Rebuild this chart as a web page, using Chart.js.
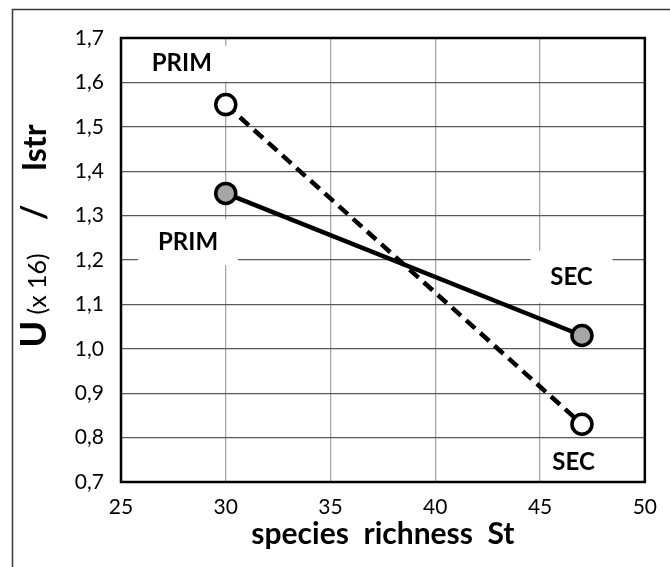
<!DOCTYPE html>
<html>
<head>
<meta charset="utf-8">
<script src="https://cdn.jsdelivr.net/npm/chart.js@4/dist/chart.umd.min.js"></script>
<style>
  body { margin: 0; background: #fff; }
  #wrap { width: 670px; height: 567px; }
</style>
</head>
<body>
<div id="wrap"><canvas id="RichChart"></canvas></div>
<script>
// species richness St
const richness = [30, 47];
const seriesU = [1.35, 1.03];     // grey points, solid line
const seriesI = [1.55, 0.83];     // white points, dashed line
const xTicks = { min: 25, max: 50, step: 5 };
const yTicks = { min: 0.7, max: 1.7, step: 0.1 };
// in-plot labels: text, x value, y value
const labelText = ['PRIM', 'PRIM', 'SEC', 'SEC'];
const labelX = [27.9, 28.2, 46.5, 46.6];
const labelY = [1.642, 1.24, 1.162, 0.745];

const FONT = 'Lato, "Open Sans", sans-serif';

const toPts = (xs, ys) => xs.map((x, i) => ({ x: x, y: ys[i] }));

const frame = {
    id: 'frame',
    beforeDraw(chart) {
        const c = chart.ctx;
        c.save();
        c.strokeStyle = '#3a3a3a';
        c.lineWidth = 1.5;
        c.strokeRect(12.5, 9.5, 700, 600);
        c.restore();
    },
    beforeDatasetsDraw(chart) {
        const c = chart.ctx, a = chart.chartArea;
        const sx = chart.scales.x, sy = chart.scales.y;
        c.save();
        // white boxes behind the labels
        const boxW = [100, 100, 82, 56], boxH = [36, 46, 52, 40];
        labelText.forEach((t, i) => {
            const px = sx.getPixelForValue(labelX[i]);
            const py = sy.getPixelForValue(labelY[i]);
            c.fillStyle = '#fff';
            let top = Math.max(py - boxH[i] / 2, a.top + 2);
            let bot = Math.min(py + boxH[i] / 2, a.bottom - 2);
            c.fillRect(px - boxW[i] / 2, top, boxW[i], bot - top);
        });
        c.strokeStyle = '#000';
        c.lineWidth = 2.5;
        c.strokeRect(a.left, a.top, a.right - a.left, a.bottom - a.top);
        c.fillStyle = '#000';
        c.font = 'bold 24px ' + FONT;
        c.textAlign = 'center';
        c.textBaseline = 'middle';
        labelText.forEach((t, i) => {
            c.fillText(t, sx.getPixelForValue(labelX[i]), sy.getPixelForValue(labelY[i]));
        });
        c.restore();
    },
    afterDraw(chart) {
        // y axis title with mixed sizes
        const c = chart.ctx;
        const parts = [
            ['U', 'bold 36px ' + FONT],
            [' (x 16)', '25px ' + FONT],
            ['    /    ', 'bold 34px ' + FONT],
            ['Istr', 'bold 32px ' + FONT]
        ];
        c.save();
        let total = 0;
        parts.forEach(p => { c.font = p[1]; total += c.measureText(p[0]).width; });
        c.translate(46, 236);
        c.rotate(-Math.PI / 2);
        c.fillStyle = '#000';
        c.textBaseline = 'alphabetic';
        c.textAlign = 'left';
        let u = -total / 2;
        parts.forEach(p => {
            c.font = p[1];
            c.fillText(p[0], u, 0);
            u += c.measureText(p[0]).width;
        });
        c.restore();
    }
};

new Chart(document.getElementById('RichChart').getContext('2d'), {
    type: 'line',
    data: {
        datasets: [{
            label: 'U (x 16)',
            data: toPts(richness, seriesU),
            borderColor: '#000',
            borderWidth: 4.5,
            pointRadius: 10,
            pointBorderWidth: 3.5,
            pointBorderColor: '#000',
            pointBackgroundColor: '#a6a6a6'
        }, {
            label: 'Istr',
            data: toPts(richness, seriesI),
            borderColor: '#000',
            borderWidth: 4.5,
            borderDash: [12, 7],
            pointRadius: 10,
            pointBorderWidth: 3.5,
            pointBorderColor: '#000',
            pointBackgroundColor: '#fff'
        }]
    },
    options: {
        responsive: true,
        maintainAspectRatio: false,
        animation: false,
        layout: { padding: { top: 38, right: 15, left: 0, bottom: 0 } },
        plugins: { legend: { display: false }, tooltip: { enabled: false } },
        scales: {
            x: {
                type: 'linear',
                min: xTicks.min,
                max: xTicks.max,
                afterFit: s => { s.height = 85; },
                ticks: {
                    stepSize: xTicks.step,
                    color: '#000',
                    padding: 13,
                    font: { family: FONT, size: 21 }
                },
                grid: { color: '#a6a6a6', lineWidth: 1.3, drawTicks: false },
                border: { display: false },
                title: {
                    display: true,
                    text: 'species  richness  St',
                    color: '#000',
                    padding: { top: 0, bottom: 15 },
                    font: { family: FONT, size: 30, weight: 'bold' }
                }
            },
            y: {
                min: yTicks.min,
                max: yTicks.max,
                afterFit: s => { s.width = 121; },
                ticks: {
                    stepSize: yTicks.step,
                    color: '#000',
                    padding: 17,
                    font: { family: FONT, size: 21 },
                    callback: v => v.toFixed(1).replace('.', ',')
                },
                grid: { color: '#5a5a5a', lineWidth: 1.3, drawTicks: false },
                border: { display: false }
            }
        }
    },
    plugins: [frame]
});
</script>
</body>
</html>
